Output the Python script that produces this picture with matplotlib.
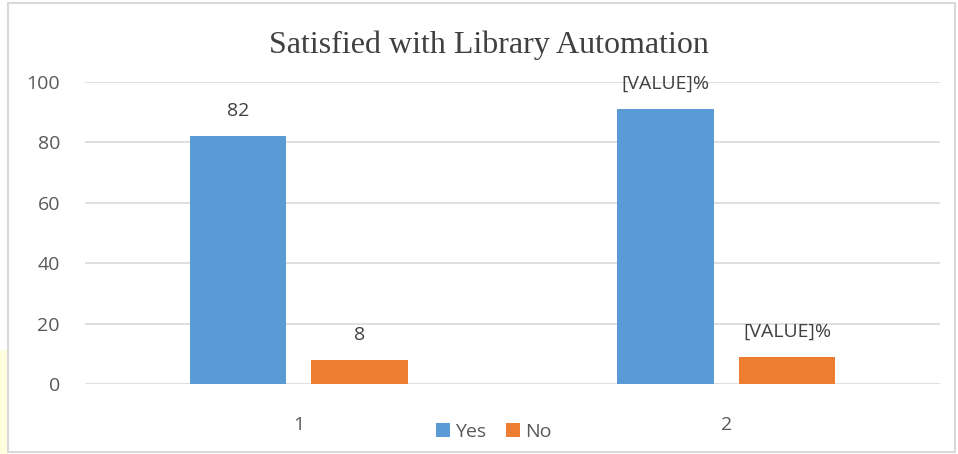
import numpy as np
import matplotlib
matplotlib.use("Agg")
import matplotlib.pyplot as plt
from matplotlib.patches import Rectangle

categories = ["1", "2"]
yes_vals = [82, 91]
no_vals = [8, 9]
yes_labels = ["82", "[VALUE]%"]
no_labels = ["8", "[VALUE]%"]
yticks = [0, 20, 40, 60, 80, 100]

blue = "#5B9BD5"
orange = "#ED7D31"
grey_txt = "#595959"

plt.rcParams["font.family"] = ["Open Sans", "DejaVu Sans"]

W, H = 958, 454
fig = plt.figure(figsize=(W / 100, H / 100), dpi=100)
ax = fig.add_axes([85 / W, 1 - 384 / H, 855 / W, 302 / H])

x = np.arange(len(categories))
bw = 0.225
off = 0.142
b1 = ax.bar(x - off, yes_vals, bw, color=blue, label="Yes", zorder=3)
b2 = ax.bar(x + off, no_vals, bw, color=orange, label="No", zorder=3)

for bars, labs in ((b1, yes_labels), (b2, no_labels)):
    for r, t in zip(bars, labs):
        ax.annotate(t, (r.get_x() + r.get_width() / 2, r.get_height()),
                    xytext=(0, 18), textcoords="offset points",
                    ha="center", va="center", fontsize=14, color="#404040")

ax.set_xlim(-0.5, 1.5)
ax.set_ylim(0, 100)
ax.set_yticks(yticks)
ax.set_xticks(x)
ax.set_xticklabels(categories)
ax.grid(axis="y", color="#D9D9D9", linewidth=1.2, zorder=0)
for s in ax.spines.values():
    s.set_visible(False)
ax.tick_params(axis="both", length=0, labelsize=14, labelcolor=grey_txt)
ax.tick_params(axis="y", pad=18)
ax.tick_params(axis="x", pad=23)

fig.suptitle("Satisfied with Library Automation", x=489 / W, y=1 - 45 / H,
             va="center", fontsize=23, family="Liberation Serif", color="#404040")

ax.legend(loc="center", bbox_to_anchor=(494 / W, 1 - 432 / H),
          bbox_transform=fig.transFigure, ncol=2, frameon=False,
          handlelength=0.7, handleheight=0.7, handletextpad=0.3,
          columnspacing=1.0, fontsize=14, labelcolor=grey_txt)

# chart frame and the pale strip at the left edge
fig.add_artist(Rectangle((0, 0), 8 / W, 104 / H, transform=fig.transFigure,
                         facecolor="#FFFFE0", edgecolor="none", zorder=0))
fig.add_artist(Rectangle((8 / W, 2 / H), 947 / W, 449 / H, transform=fig.transFigure,
                         facecolor="none", edgecolor="#D9D9D9", linewidth=1.5))

fig.savefig("out.png", dpi=100)
